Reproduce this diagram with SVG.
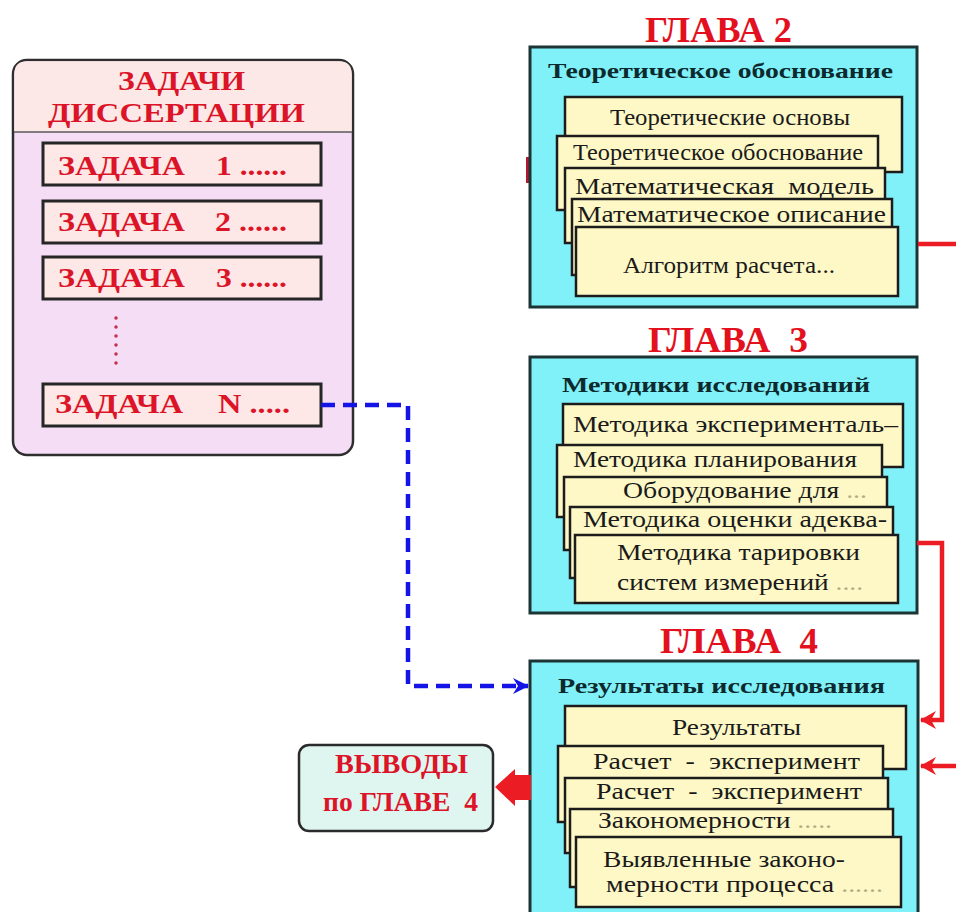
<svg xmlns="http://www.w3.org/2000/svg" width="956" height="912" viewBox="0 0 956 912">
  <style>
    text { font-family: "Liberation Serif", "Times New Roman", serif; white-space: pre; }
    .panel { fill: #f6ddf6; stroke: #2e2e2e; stroke-width: 2.5; }
    .task { fill: #fde7e7; stroke: #262626; stroke-width: 3; }
    .tt { font-size: 27px; font-weight: bold; fill: #dc1428; }
    .chap { fill: #80f1f8; stroke: #1c3434; stroke-width: 3; }
    .card { fill: #fdf8c6; stroke: #1c1c1c; stroke-width: 2.5; }
    .title { font-size: 35px; font-weight: bold; fill: #e3101e; }
    .head { font-size: 22px; font-weight: bold; fill: #0c2a2e; }
    .ct { font-size: 23px; fill: #1a1a1a; }
    .fade { fill: #b3ad82; }
    .red { fill: none; stroke: #ec1c24; stroke-width: 4.5; }
    .blue { fill: none; stroke: #1414e6; stroke-width: 4.5; stroke-dasharray: 14 8; }
    .concl { fill: #dff5f0; stroke: #2b2b2b; stroke-width: 2.5; }
  </style>
  <defs>
    <marker id="arrRed" markerUnits="userSpaceOnUse" markerWidth="18" markerHeight="20" refX="15" refY="10" orient="auto">
      <path d="M0,1 L16,10 L0,19 L5,10 Z" fill="#ec1c24"/>
    </marker>
    <marker id="arrBlue" markerUnits="userSpaceOnUse" markerWidth="18" markerHeight="20" refX="15" refY="10" orient="auto">
      <path d="M0,2 L16,10 L0,18 L5,10 Z" fill="#1414e6"/>
    </marker>
  </defs>

  <rect width="956" height="912" fill="#ffffff"/>

  <!-- Dissertation tasks panel -->
  <g id="tasks">
    <rect class="panel" x="13" y="60" width="340" height="395" rx="14"/>
    <path d="M14.3,132 V74 Q14.3,61.3 27,61.3 H339 Q351.7,61.3 351.7,74 V132 Z" fill="#fde8e8"/>
    <line x1="14" y1="132" x2="352" y2="132" stroke="#5a5a5a" stroke-width="1.5"/>
    <text class="tt" x="118" y="90" textLength="127" lengthAdjust="spacingAndGlyphs">ЗАДАЧИ</text>
    <text class="tt" x="48" y="122" textLength="257" lengthAdjust="spacingAndGlyphs">ДИССЕРТАЦИИ</text>

    <rect class="task" x="43" y="143" width="278" height="42"/>
    <text class="tt" x="58" y="175" textLength="127" lengthAdjust="spacingAndGlyphs">ЗАДАЧА</text>
    <text class="tt" x="216" y="175" textLength="71" lengthAdjust="spacingAndGlyphs">1 ......</text>

    <rect class="task" x="43" y="201" width="278" height="42"/>
    <text class="tt" x="58" y="231" textLength="127" lengthAdjust="spacingAndGlyphs">ЗАДАЧА</text>
    <text class="tt" x="215" y="231" textLength="72" lengthAdjust="spacingAndGlyphs">2 ......</text>

    <rect class="task" x="43" y="257" width="278" height="42"/>
    <text class="tt" x="58" y="287" textLength="127" lengthAdjust="spacingAndGlyphs">ЗАДАЧА</text>
    <text class="tt" x="216" y="287" textLength="71" lengthAdjust="spacingAndGlyphs">3 ......</text>

    <line x1="116" y1="318" x2="116" y2="372" stroke="#c0304a" stroke-width="3.5" stroke-linecap="round" stroke-dasharray="0 9"/>

    <rect class="task" x="43" y="384" width="278" height="42"/>
    <text class="tt" x="55" y="413" textLength="128" lengthAdjust="spacingAndGlyphs">ЗАДАЧА</text>
    <text class="tt" x="218" y="413" textLength="72" lengthAdjust="spacingAndGlyphs">N .....</text>
  </g>

  <!-- Chapter 2 -->
  <g id="chapter2">
    <text class="title" x="645" y="42" textLength="147" lengthAdjust="spacingAndGlyphs">ГЛАВА 2</text>
    <rect x="526" y="157" width="5" height="26" fill="#b01830"/>
    <rect class="chap" x="530" y="47" width="387" height="260"/>
    <text class="head" x="548" y="78" textLength="345" lengthAdjust="spacingAndGlyphs">Теоретическое обоснование</text>
    <rect class="card" x="565" y="97" width="337" height="75"/>
    <text class="ct" x="610" y="125" textLength="240" lengthAdjust="spacingAndGlyphs">Теоретические основы</text>
    <rect class="card" x="557" y="136" width="321" height="74"/>
    <text class="ct" x="573" y="160" textLength="290" lengthAdjust="spacingAndGlyphs">Теоретическое обоснование</text>
    <rect class="card" x="565" y="168" width="320" height="75"/>
    <text class="ct" x="575" y="194" font-size="27" textLength="299" lengthAdjust="spacingAndGlyphs">Математическая  модель</text>
    <rect class="card" x="572" y="199" width="320" height="76"/>
    <text class="ct" x="577" y="222" font-size="26" textLength="309" lengthAdjust="spacingAndGlyphs">Математическое описание</text>
    <rect class="card" x="576" y="227" width="322" height="69"/>
    <text class="ct" x="623" y="273" textLength="212" lengthAdjust="spacingAndGlyphs">Алгоритм расчета...</text>
  </g>

  <!-- Chapter 3 -->
  <g id="chapter3">
    <text class="title" x="648" y="352" textLength="160" lengthAdjust="spacingAndGlyphs">ГЛАВА  3</text>
    <rect class="chap" x="530" y="357" width="387" height="256"/>
    <text class="head" x="562" y="392" textLength="308" lengthAdjust="spacingAndGlyphs">Методики исследований</text>
    <rect class="card" x="563" y="404" width="340" height="63"/>
    <text class="ct" x="573" y="432" font-size="24" textLength="325" lengthAdjust="spacingAndGlyphs">Методика эксперименталь–</text>
    <rect class="card" x="557" y="445" width="325" height="72"/>
    <text class="ct" x="573" y="467" font-size="24" textLength="284" lengthAdjust="spacingAndGlyphs">Методика планирования</text>
    <rect class="card" x="564" y="477" width="323" height="73"/>
    <text class="ct" x="623" y="498" font-size="24" textLength="244" lengthAdjust="spacingAndGlyphs">Оборудование для <tspan class="fade">...</tspan></text>
    <rect class="card" x="570" y="507" width="323" height="71"/>
    <text class="ct" x="583" y="527" font-size="24" textLength="304" lengthAdjust="spacingAndGlyphs">Методика оценки адеква-</text>
    <rect class="card" x="575" y="535" width="323" height="68"/>
    <text class="ct" x="617" y="560" textLength="243" lengthAdjust="spacingAndGlyphs">Методика тарировки</text>
    <text class="ct" x="617" y="590" textLength="246" lengthAdjust="spacingAndGlyphs">систем измерений <tspan class="fade">....</tspan></text>
  </g>

  <!-- Chapter 4 -->
  <g id="chapter4">
    <text class="title" x="660" y="653" textLength="158" lengthAdjust="spacingAndGlyphs">ГЛАВА  4</text>
    <rect class="chap" x="530" y="661" width="388" height="260"/>
    <text class="head" x="558" y="693" textLength="327" lengthAdjust="spacingAndGlyphs">Результаты исследования</text>
    <rect class="card" x="565" y="706" width="341" height="63"/>
    <text class="ct" x="672" y="735" textLength="129" lengthAdjust="spacingAndGlyphs">Результаты</text>
    <rect class="card" x="558" y="746" width="325" height="76"/>
    <text class="ct" x="593" y="769" textLength="267" lengthAdjust="spacingAndGlyphs">Расчет  -  эксперимент</text>
    <rect class="card" x="565" y="778" width="323" height="75"/>
    <text class="ct" x="596" y="799" textLength="266" lengthAdjust="spacingAndGlyphs">Расчет  -  эксперимент</text>
    <rect class="card" x="570" y="809" width="323" height="78"/>
    <text class="ct" x="598" y="828" textLength="234" lengthAdjust="spacingAndGlyphs">Закономерности <tspan class="fade">.....</tspan></text>
    <rect class="card" x="576" y="837" width="325" height="70"/>
    <text class="ct" x="603" y="867" textLength="242" lengthAdjust="spacingAndGlyphs">Выявленные законо-</text>
    <text class="ct" x="606" y="892" textLength="277" lengthAdjust="spacingAndGlyphs">мерности процесса <tspan class="fade">......</tspan></text>
  </g>

  <!-- Chapter 4 conclusions -->
  <g id="conclusions">
    <rect class="concl" x="299" y="745" width="194" height="86" rx="10"/>
    <text class="tt" x="335" y="773" font-size="25" textLength="133" lengthAdjust="spacingAndGlyphs">ВЫВОДЫ</text>
    <text class="tt" x="323" y="811" font-size="25" textLength="155" lengthAdjust="spacingAndGlyphs">по ГЛАВЕ  4</text>
  </g>

  <!-- Connectors -->
  <g id="connectors">
    <path class="blue" d="M321,405 H408 V686 H528" marker-end="url(#arrBlue)"/>
    <path class="red" d="M918,244 H956"/>
    <path class="red" d="M917,543 H942 V720 H921" marker-end="url(#arrRed)"/>
    <path class="red" d="M956,766 H921" marker-end="url(#arrRed)"/>
    <path d="M531,775 H515 V769 L495,787 L515,806 V800 H531 Z" fill="#ec1c24"/>
  </g>
</svg>
